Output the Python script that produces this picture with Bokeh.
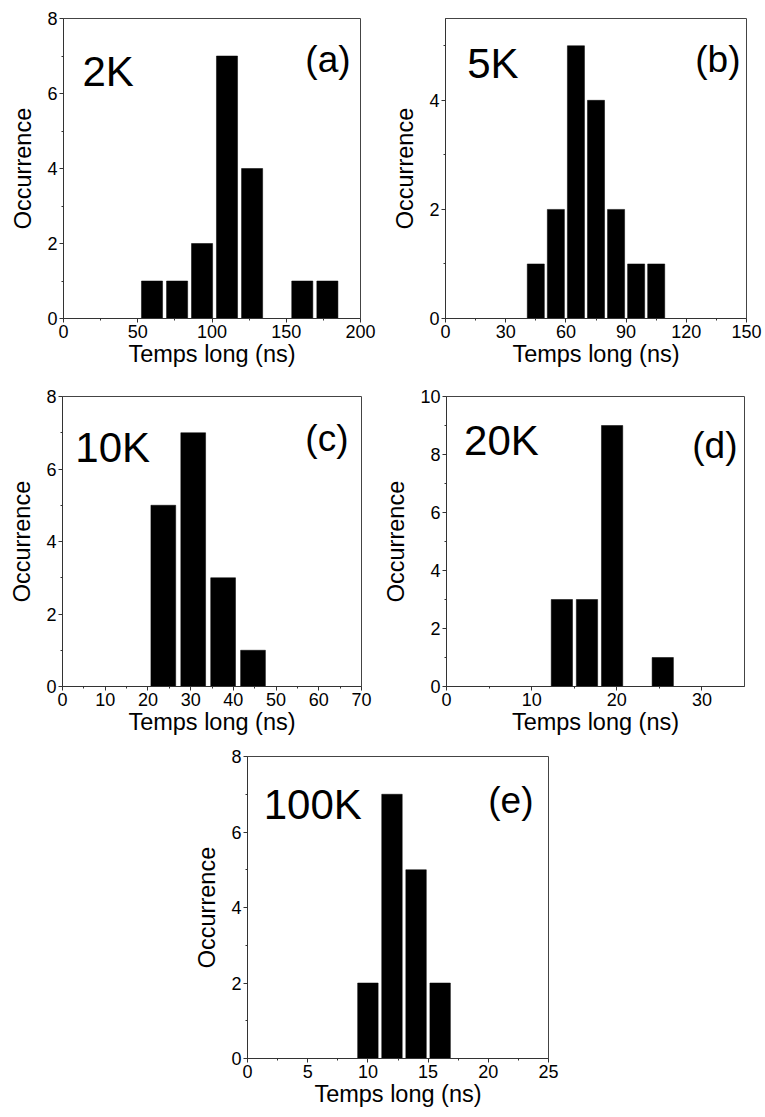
from bokeh.plotting import figure
from bokeh.models import Range1d, FixedTicker, Label
from bokeh.layouts import column, row
from bokeh.embed import file_html
from bokeh.resources import INLINE

# ---------------- data ----------------
a_centers = [59.6, 76.5, 93.3, 110.1, 127.0, 160.8, 177.7]
a_counts = [1, 1, 2, 7, 4, 1, 1]

b_centers = [45, 55, 65, 75, 85, 95, 105]
b_counts = [1, 2, 5, 4, 2, 1, 1]

c_centers = [23.6, 30.6, 37.6, 44.6]
c_counts = [5, 7, 3, 1]

d_centers = [13.55, 16.5, 19.45, 25.4]
d_counts = [3, 3, 9, 1]

e_centers = [10, 12, 14, 16]
e_counts = [2, 7, 5, 2]

temps = ["2K", "5K", "10K", "20K", "100K"]
tags = ["(a)", "(b)", "(c)", "(d)", "(e)"]

x_label = "Temps long (ns)"
y_label = "Occurrence"

FONT = "Liberation Sans"


def make_panel(x, counts, bar_w, xr, yr, xticks, xminor, yticks, yminor,
               temp, tag, temp_pos, tag_pos, width, height, borders):
    l, r, t, b = borders
    p = figure(width=width, height=height,
               x_range=Range1d(*xr), y_range=Range1d(*yr),
               output_backend="svg", toolbar_location=None,
               min_border_left=l, min_border_right=r,
               min_border_top=t, min_border_bottom=b)
    p.vbar(x=x, top=counts, bottom=0, width=bar_w,
           fill_color="black", line_color="black", line_width=0.5)
    p.grid.visible = False
    p.outline_line_color = "#444444"
    p.outline_line_width = 1
    p.background_fill_color = "white"
    p.border_fill_color = "white"

    p.xaxis.ticker = FixedTicker(ticks=xticks, minor_ticks=xminor)
    p.yaxis.ticker = FixedTicker(ticks=yticks, minor_ticks=yminor)
    for ax in (p.xaxis[0], p.yaxis[0]):
        ax.axis_line_color = "#333333"
        ax.major_tick_line_color = "#333333"
        ax.minor_tick_line_color = "#333333"
        ax.major_tick_out = 4
        ax.major_tick_in = 0
        ax.minor_tick_out = 2
        ax.minor_tick_in = 0
        ax.major_label_text_font = FONT
        ax.major_label_text_font_size = "18px"
        ax.major_label_text_color = "black"
        ax.major_label_standoff = 2
        ax.axis_label_text_font = FONT
        ax.axis_label_text_font_size = "23.5px"
        ax.axis_label_text_font_style = "normal"
        ax.axis_label_text_color = "black"
    p.xaxis.axis_label = x_label
    p.yaxis.axis_label = y_label
    p.xaxis.axis_label_standoff = 0
    p.yaxis.axis_label_standoff = 8

    p.add_layout(Label(x=temp_pos[0], y=temp_pos[1], text=temp,
                       text_font=FONT, text_font_size="42px",
                       text_align="left", text_baseline="alphabetic",
                       text_color="black"))
    p.add_layout(Label(x=tag_pos[0], y=tag_pos[1], text=tag,
                       text_font=FONT, text_font_size="37px",
                       text_align="right", text_baseline="alphabetic",
                       text_color="black"))
    return p


pa = make_panel(a_centers, a_counts, 14.2, (0, 200), (0, 8),
                [0, 50, 100, 150, 200], [25, 75, 125, 175],
                [0, 2, 4, 6, 8], [1, 3, 5, 7],
                temps[0], tags[0], (12.8, 6.6), (193.3, 6.9),
                380, 382, (63, 20, 15, 64))

pb = make_panel(b_centers, b_counts, 8.5, (0, 150), (0, 5.5),
                [0, 30, 60, 90, 120, 150], [15, 45, 75, 105, 135],
                [0, 2, 4], [1, 3, 5],
                temps[1], tags[1], (10.8, 4.68), (147, 4.74),
                385, 382, (65, 19, 18, 60))

pc = make_panel(c_centers, c_counts, 5.8, (0, 70), (0, 8),
                [0, 10, 20, 30, 40, 50, 60, 70], [5, 15, 25, 35, 45, 55, 65],
                [0, 2, 4, 6, 8], [1, 3, 5, 7],
                temps[2], tags[2], (3.0, 6.6), (66.96, 6.85),
                380, 360, (62, 19, 12, 56))

pd_ = make_panel(d_centers, d_counts, 2.5, (0, 35), (0, 10),
                 [0, 10, 20, 30], [5, 15, 25],
                 [0, 2, 4, 6, 8, 10], [1, 3, 5, 7, 9],
                 temps[3], tags[3], (2.07, 8.48), (34.18, 8.31),
                 385, 360, (64, 21, 14, 56))

pe = make_panel(e_centers, e_counts, 1.7, (0, 25), (0, 8),
                [0, 5, 10, 15, 20, 25], [2.5, 7.5, 12.5, 17.5, 22.5],
                [0, 2, 4, 6, 8], [1, 3, 5, 7],
                temps[4], tags[4], (1.35, 6.74), (23.75, 6.83),
                765, 375, (247, 217, 14, 59))

layout = column(row(pa, pb), row(pc, pd_), pe)

open("out.html", "w").write(file_html(layout, INLINE))
